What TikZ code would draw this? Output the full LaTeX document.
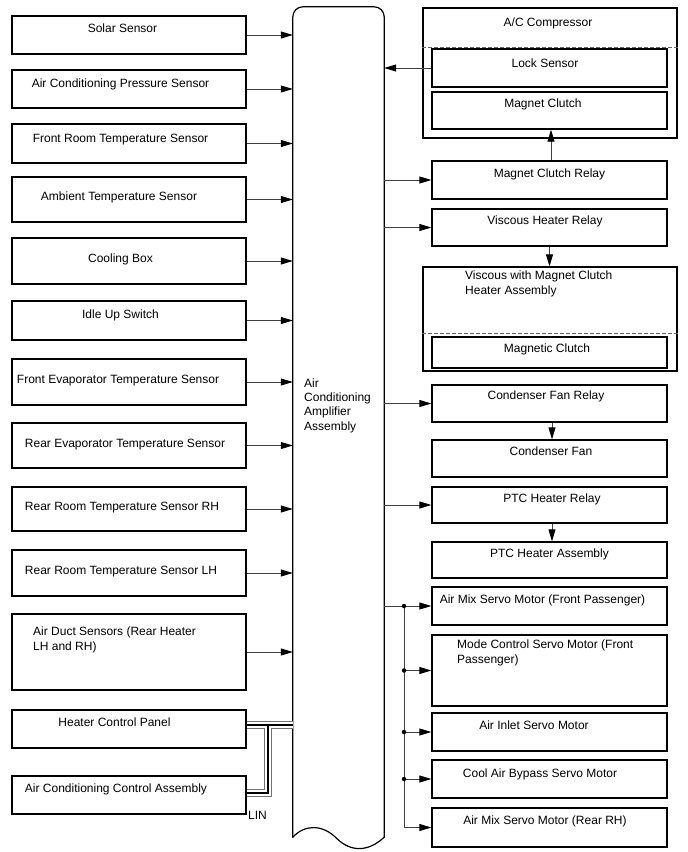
\documentclass[tikz,border=0pt]{standalone}
\usepackage{fontspec}
\setmainfont{Liberation Sans}
\usepackage{tikz}
\usetikzlibrary{arrows.meta, calc}

\begin{document}
\begin{tikzpicture}[
  x=1pt, y=-1pt,
  every node/.style={font=\fontsize{12}{14.3}\selectfont},
  sensor/.style={rectangle, draw=black, line width=1.3pt, minimum width=234pt,
                 inner sep=0pt},
  unit/.style={sensor, minimum width=235pt},
  outer/.style={sensor, minimum width=254pt},
  lbl/.style={anchor=base, inner sep=0pt},
  lblL/.style={anchor=base west, inner sep=0pt, align=left},
  ampline/.style={draw=black, line width=1.2pt, line cap=round},
  flow/.style={-{Triangle[length=12pt, width=7pt, color=black]}, line width=0.8pt, draw=black!75},
  wire/.style={line width=0.8pt, draw=black!75},
  sep/.style={draw=black!60, line width=0.8pt, dash pattern=on 4pt off 2pt},
  dot/.style={circle, fill=black, inner sep=0pt, minimum size=4.5pt},
]
\useasboundingbox (0,0) rectangle (688,852);

% Amplifier
\node[minimum width=91pt, minimum height=830pt, inner sep=0pt] (amp) at (338.5,422) {};
\draw[ampline, rounded corners=10pt] (amp.south west) -- (amp.north west)
      -- (amp.north east) -- (amp.south east);
\draw[ampline] (amp.south east) .. controls +(-16,15) and +(14,14) .. ($(amp.south)+(-2,1)$)
      .. controls +(-14,-14) and +(12,-13) .. (amp.south west);
\node[lblL] (ampT) at (304,430) {Air\\Conditioning\\Amplifier\\Assembly};

% Inputs
\node[sensor, minimum height=38pt] (solar)   at (129,35)    {};
\node[sensor, minimum height=38pt] (acp)     at (129,89)    {};
\node[sensor, minimum height=39pt] (froom)   at (129,143.5) {};
\node[sensor, minimum height=45pt] (ambient) at (129,199.5) {};
\node[sensor, minimum height=46pt] (cbox)    at (129,261)   {};
\node[sensor, minimum height=39pt] (idle)    at (129,320.5) {};
\node[sensor, minimum height=46pt] (fevap)   at (129,382)   {};
\node[sensor, minimum height=45pt] (revap)   at (129,445.5) {};
\node[sensor, minimum height=44pt] (rrh)     at (129,509)   {};
\node[sensor, minimum height=46pt] (rlh)     at (129,573)   {};
\node[sensor, minimum height=76pt] (duct)    at (129,652)   {};
\node[sensor, minimum height=38pt] (hcp)     at (129,729)   {};
\node[sensor, minimum height=38pt] (acca)    at (129,795)   {};

\node[lbl] (solarT)   at (122.5,32)  {Solar Sensor};
\node[lbl] (acpT)     at (120.5,87)  {Air Conditioning Pressure Sensor};
\node[lbl] (froomT)   at (120.5,142) {Front Room Temperature Sensor};
\node[lbl] (ambientT) at (119,200)   {Ambient Temperature Sensor};
\node[lbl] (cboxT)    at (120.5,262) {Cooling Box};
\node[lbl] (idleT)    at (120.5,318) {Idle Up Switch};
\node[lbl] (fevapT)   at (118,383)   {Front Evaporator Temperature Sensor};
\node[lbl] (revapT)   at (125,447)   {Rear Evaporator Temperature Sensor};
\node[lbl] (rrhT)     at (122,510)   {Rear Room Temperature Sensor RH};
\node[lbl] (rlhT)     at (121,574)   {Rear Room Temperature Sensor LH};
\node[lblL] (ductT)   at (33,650)    {Air Duct Sensors (Rear Heater\\LH and RH)};
\node[lbl] (hcpT)     at (114.5,726) {Heater Control Panel};
\node[lbl] (accaT)    at (116,792)   {Air Conditioning Control Assembly};

% Outputs
\node[outer, minimum height=130pt] (comp)    at (550,73)    {};
\node[unit,  minimum height=38pt]  (lock)    at (549.5,68)  {};
\node[unit,  minimum height=37pt]  (mclutch) at (549.5,110.5) {};
\node[unit,  minimum height=38pt]  (mcrelay) at (549.5,180) {};
\node[unit,  minimum height=37pt]  (vhrelay) at (549.5,227.5) {};
\node[outer, minimum height=104pt] (visc)    at (550,319)   {};
\node[unit,  minimum height=31pt]  (magcl)   at (549.5,352.5) {};
\node[unit,  minimum height=37pt]  (cfrelay) at (549.5,403.5) {};
\node[unit,  minimum height=37pt]  (cfan)    at (549.5,458.5) {};
\node[unit,  minimum height=36pt]  (ptcrelay) at (549.5,505) {};
\node[unit,  minimum height=36pt]  (ptcasm)  at (549.5,560)  {};
\node[unit,  minimum height=38pt]  (amfp)    at (549.5,606)  {};
\node[unit,  minimum height=71pt]  (mode)    at (549.5,670.5) {};
\node[unit,  minimum height=38pt]  (inlet)   at (549.5,732)  {};
\node[unit,  minimum height=38pt]  (bypass)  at (549.5,779)  {};
\node[unit,  minimum height=39pt]  (amrr)    at (549.5,827.5) {};

\draw[sep] (comp.west |- 0,47)  -- (comp.east |- 0,47);
\draw[sep] (visc.west |- 0,333) -- (visc.east |- 0,333);

\node[lbl] (compT)     at (548,26)    {A/C Compressor};
\node[lbl] (lockT)     at (545,67)    {Lock Sensor};
\node[lbl] (mclutchT)  at (543,107)   {Magnet Clutch};
\node[lbl] (mcrelayT)  at (549.5,177) {Magnet Clutch Relay};
\node[lbl] (vhrelayT)  at (545,224)   {Viscous Heater Relay};
\node[lblL] (viscT)    at (465,294)   {Viscous with Magnet Clutch\\Heater Assembly};
\node[lbl] (magclT)    at (547,352)   {Magnetic Clutch};
\node[lbl] (cfrelayT)  at (546,399)   {Condenser Fan Relay};
\node[lbl] (cfanT)     at (551,455)   {Condenser Fan};
\node[lbl] (ptcrelayT) at (552,502)   {PTC Heater Relay};
\node[lbl] (ptcasmT)   at (549.5,557) {PTC Heater Assembly};
\node[lbl] (amfpT)     at (542.5,603) {Air Mix Servo Motor (Front Passenger)};
\node[lblL] (modeT)    at (457,663)   {Mode Control Servo Motor (Front\\Passenger)};
\node[lbl] (inletT)    at (534,729)   {Air Inlet Servo Motor};
\node[lbl] (bypassT)   at (540,777)   {Cool Air Bypass Servo Motor};
\node[lbl] (amrrT)     at (545,824)   {Air Mix Servo Motor (Rear RH)};

% ── Sensor → Amplifier ──
\foreach \s in {solar, acp, froom, ambient, cbox, idle, fevap, revap, rrh, rlh, duct}
  \draw[flow] (\s.east) -- (\s.east -| amp.west);

% ── Amplifier → Actuator ──
\draw[flow] (lock.west) -- (lock.west -| amp.east);
\draw[flow] (mcrelay.west -| amp.east) -- (mcrelay.west);
\draw[flow] (vhrelay.west -| amp.east) -- (vhrelay.west);
\draw[flow] (cfrelay.west -| amp.east) -- (cfrelay.west);
\draw[flow] (ptcrelay.west -| amp.east) -- (ptcrelay.west);

% ── Relay → Load ──
\draw[flow] ([xshift=1.5pt]mcrelay.north) -- ([xshift=1.5pt]mclutch.south);
\draw[flow] (vhrelay.south) -- (vhrelay.south |- visc.north);
\draw[flow] ([xshift=2.5pt]cfrelay.south) -- ([xshift=2.5pt]cfan.north);
\draw[flow] ([xshift=2.5pt]ptcrelay.south) -- ([xshift=2.5pt]ptcasm.north);

% ── Servo motor bus ──
\coordinate (bus) at (404,606);
\draw[wire] (amfp.west -| amp.east) -- (bus);
\draw[wire] (bus) -- (bus |- amrr.west);
\foreach \m in {amfp, mode, inlet, bypass, amrr}
  \draw[flow] (bus |- \m.west) -- (\m.west);
\foreach \m in {amfp, mode, inlet, bypass}
  \node[dot] (dot\m) at (bus |- \m.west) {};

% ── LIN ──
\coordinate (lin) at (268,725);
\foreach \w/\c in {8/black!55, 6/white, 2.2/black} {
  \draw[line width=\w pt, draw=\c] ([yshift=4pt]hcp.east) -- ([yshift=4pt]hcp.east -| amp.west);
  \draw[line width=\w pt, draw=\c] ([yshift=2pt]acca.east) -- ([yshift=2pt]acca.east -| lin) -- (lin);
}
\node[lbl, anchor=base west] (linT) at (248,819) {LIN};

\end{tikzpicture}
\end{document}
